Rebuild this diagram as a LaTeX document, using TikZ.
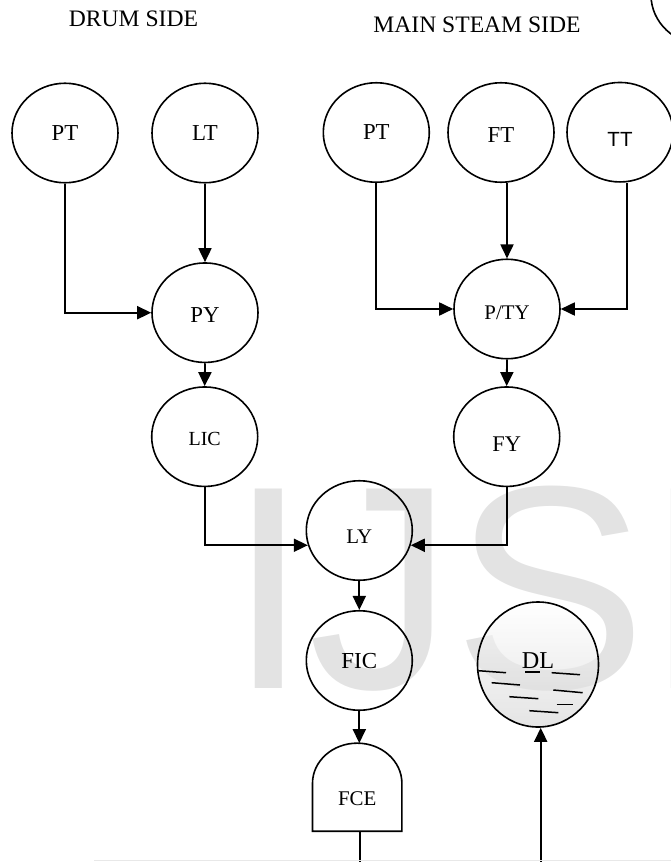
\documentclass[tikz,border=0pt]{standalone}
\usepackage{fontspec}
\setmainfont{Liberation Serif}
\newfontfamily\arialfont{Liberation Sans}
\usetikzlibrary{shapes.geometric,arrows.meta,calc}
\begin{document}
\begin{tikzpicture}[x=1pt,y=-1pt,
  inst/.style={ellipse, draw, line width=1.6pt, minimum width=106pt, minimum height=99.5pt,
    inner sep=0pt, text depth=0pt, font=\fontsize{22.8}{22.8}\selectfont},
  conn/.style={line width=1.8pt, -{Triangle[length=14pt,width=13pt]}},
  plainline/.style={line width=1.8pt},
  hdr/.style={font=\fontsize{23.6}{24}\selectfont, inner sep=0pt},
  liquid/.style={line width=1.5pt}
]
\useasboundingbox (0,0) rectangle (671,862);
\clip (0,0) rectangle (671,862);
% watermark
\node[anchor=base west, inner sep=0pt, text=gray!22,
  font=\arialfont\fontsize{290}{290}\selectfont] (wm) at (228,688) {IJSER};
% headers
\node[hdr] (hd) at (133.5,18.5) {DRUM SIDE};
\node[hdr] (hm) at (477,24.7) {MAIN STEAM SIDE};
% instruments
\node[inst] (TR) at (704,-5) {};
\node[inst] (PTd) at (65,133) {PT};
\node[inst] (LT) at (205,133) {LT};
\node[inst] (PTm) at (376.3,132.5) {PT};
\node[inst, text height=19.1pt] (FT) at (501,132.5) {FT};
\node[inst, font=\arialfont\fontsize{20.5}{20.5}\selectfont, text height=29.3pt] (TT) at (620,132.2) {TT};
\node[inst, text height=20.3pt] (PY) at (205,312.7) {PY};
\node[inst, font=\fontsize{20.8}{20.8}\selectfont, text height=20.8pt] (PTY) at (507,309) {P/TY};
\node[inst, font=\fontsize{20}{20}\selectfont, text height=17.8pt] (LIC) at (204.7,436.7) {LIC};
\node[inst, font=\fontsize{22.4}{22.4}\selectfont, text height=29.4pt] (FY) at (506.7,436.7) {FY};
\node[inst, font=\fontsize{20.8}{20.8}\selectfont, text height=26.2pt] (LY) at (359.3,530.5) {LY};
\node[inst, font=\fontsize{22.9}{22.9}\selectfont] (FIC) at (359.3,660.5) {FIC};
\node[inst, minimum width=121pt, minimum height=125pt, font=\fontsize{24.2}{24.2}\selectfont,
  text depth=7.4pt, top color=white, middle color=gray!55, bottom color=gray!35,
  fill opacity=0.6, text opacity=1] (DL) at (538,664.5) {DL};
% liquid dashes
\draw[liquid] (478.3,670.7) -- (506,672.7);
\draw[liquid] (525,672) -- (540,672);
\draw[liquid] (551.7,672.7) -- (580,674.7);
\draw[liquid] (491.7,682.7) -- (520,685);
\draw[liquid] (553.3,690) -- (582.7,692.7);
\draw[liquid] (509.3,696.7) -- (538.3,698.7);
\draw[liquid] (556.7,704.7) -- (572.7,704.7);
\draw[liquid] (529.3,710.7) -- (558.3,712.7);
% final control element
\node[minimum width=89pt, minimum height=87.7pt, inner sep=0pt, text depth=0pt, text height=36.8pt,
  font=\fontsize{20.9}{20.9}\selectfont] (FCE) at (357.2,787.2) {FCE};
\draw[line width=1.6pt] (FCE.south west) -- ($(FCE.south west)+(0,-48)$)
  .. controls ($(FCE.south west)+(0,-70.1)$) and ($(FCE.north)+(-24.6,0)$) .. (FCE.north)
  .. controls ($(FCE.north)+(24.6,0)$) and ($(FCE.south east)+(0,-70.1)$) .. ($(FCE.south east)+(0,-48)$)
  -- (FCE.south east) -- cycle;
% connectors
\draw[conn] (PTd.south) |- (PY.west);
\draw[conn] (LT.south) -- (PY.north);
\draw[conn] (PTm.south) |- (PTY.west);
\draw[conn] (PTY.north |- FT.south) -- (PTY.north);
\draw[conn] ([xshift=6.7pt]TT.south) |- (PTY.east);
\draw[conn] (PY.south) -- (LIC.north);
\draw[conn] (PTY.south) -- (FY.north);
\draw[conn] (LIC.south) |- (LY.196);
\draw[conn] (FY.south) |- (LY.344);
\draw[conn] (LY.south) -- (FIC.north);
\draw[conn] (FIC.south) -- (FIC.south |- FCE.north);
\coordinate (outFCE) at (360,862);
\draw[plainline] (outFCE |- FCE.south) -- (outFCE);
\coordinate (inDL) at (540.7,862);
\draw[conn] (inDL) -- (inDL |- DL.south);
% page edge line
\draw[gray!18, line width=1.2pt] (94,860.5) -- (671,860.5);
\end{tikzpicture}
\end{document}
